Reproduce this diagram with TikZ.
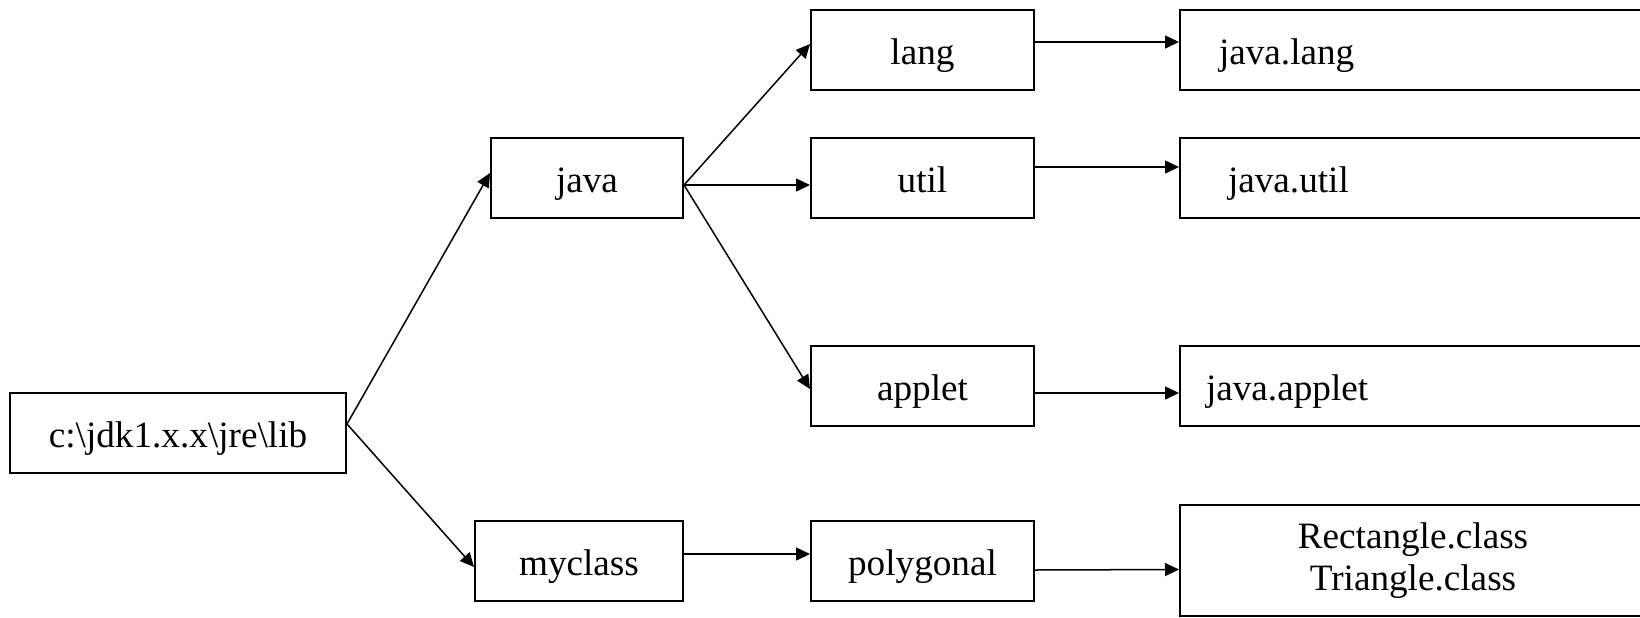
\documentclass[tikz,border=0pt]{standalone}
\usepackage{fontspec}
\setmainfont{Liberation Serif}
\usetikzlibrary{arrows.meta, positioning}

\begin{document}
\begin{tikzpicture}[
        x=0.5pt, y=-0.5pt,
        box/.style={rectangle, draw=black, line width=1pt, minimum height=40pt, inner sep=0pt, align=center, font=\fontsize{18.6}{21}\selectfont},
        word/.style={box, text height=18pt, text depth=3.5pt},
        dirbox/.style={word, minimum width=111.5pt},
        pkgbox/.style={word, anchor=west, text width=210pt, align=left},
        arrow/.style={-{Triangle[length=7pt, width=6.5pt]}, line width=0.75pt, black}
    ]
        \useasboundingbox (0,0) rectangle (1640,617);

        % Nodes
        \node[word, minimum width=168pt] (root) at (178,433) {c:\textbackslash jdk1.x.x\textbackslash jre\textbackslash lib};
        \node[word, minimum width=96pt] (java) at (587,177.5) {java};
        \node[word, minimum width=104pt] (myclass) at (579,561) {myclass};

        \node[dirbox] (lang) at (922.5,50) {lang};
        \node[dirbox] (util) at (922.5,177.5) {util};
        \node[dirbox] (applet) at (922.5,385.5) {applet};
        \node[dirbox] (polygonal) at (922.5,561) {polygonal};

        \node[pkgbox, inner xsep=19.5pt] (jlang) at (1179,50) {java.lang};
        \node[pkgbox, inner xsep=24pt] (jutil) at (1179,177.5) {java.util};
        \node[pkgbox, inner xsep=13pt] (japplet) at (1179,385.5) {java.applet};
        \node[box, anchor=west, minimum width=233pt, minimum height=55.5pt] (classes) at (1179,560.5) {Rectangle.class\\Triangle.class};

        % Arrows
        \draw[arrow] ([yshift=4.5pt]root.east) -- ([yshift=2.25pt]java.west);
        \draw[arrow] ([yshift=4.5pt]root.east) -- ([yshift=-3pt]myclass.west);

        \draw[arrow] ([yshift=-3.75pt]java.east) -- ([yshift=3pt]lang.west);
        \draw[arrow] ([yshift=-3.75pt]java.east) -- ([yshift=-3.75pt]util.west);
        \draw[arrow] ([yshift=-3.75pt]java.east) -- ([yshift=-1.75pt]applet.west);
        \draw[arrow] ([yshift=3.5pt]myclass.east) -- ([yshift=3.5pt]polygonal.west);

        \draw[arrow] ([yshift=4pt]lang.east) -- ([yshift=4pt]jlang.west);
        \draw[arrow] ([yshift=5.25pt]util.east) -- ([yshift=5.25pt]jutil.west);
        \draw[arrow] ([yshift=-3.75pt]applet.east) -- ([yshift=-3.75pt]japplet.west);
        \draw[arrow] ([yshift=-4.5pt]polygonal.east) -- ([yshift=-4.5pt]classes.west);

    \end{tikzpicture}
\end{document}
